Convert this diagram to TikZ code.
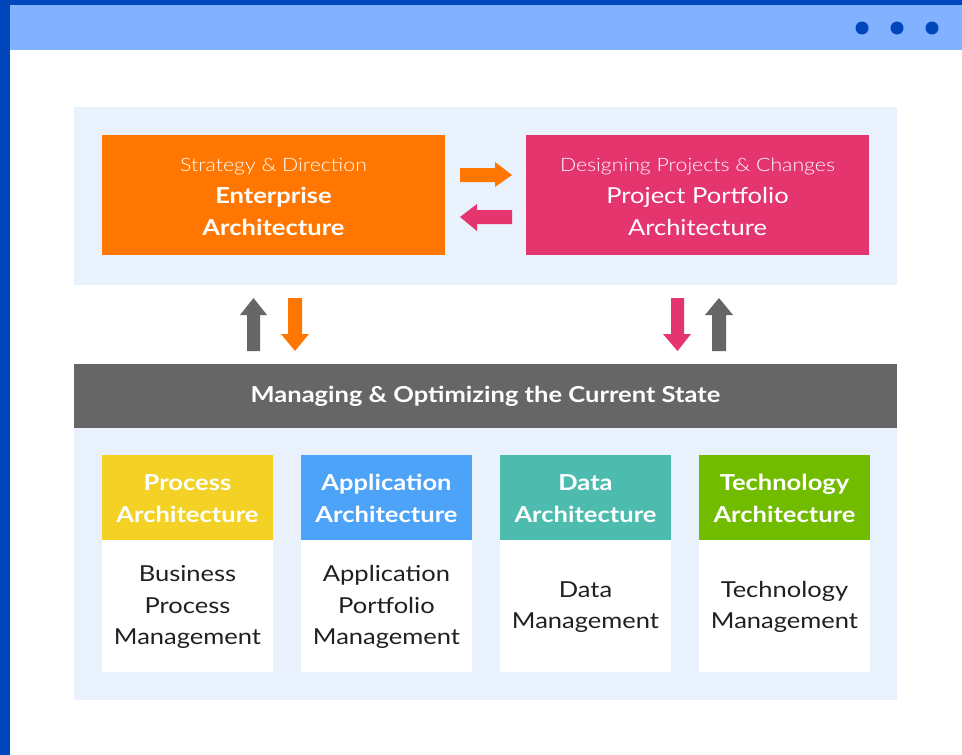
\documentclass[tikz,border=0pt]{standalone}
\usepackage{fontspec}
\setmainfont{Lato}[FakeStretch=1.16]
\newfontfamily\lightfont{Lato Light}[FakeStretch=1.15]
\definecolor{darkblue}{HTML}{0047BB}
\definecolor{barblue}{HTML}{82B1FF}
\definecolor{panel}{HTML}{E9F1FD}
\definecolor{eaorange}{HTML}{FF7700}
\definecolor{ppink}{HTML}{E4356F}
\definecolor{mgray}{HTML}{666666}
\definecolor{pyellow}{HTML}{F4D125}
\definecolor{ablue}{HTML}{4DA3F7}
\definecolor{dteal}{HTML}{4DBBAE}
\definecolor{tgreen}{HTML}{72BC00}
\definecolor{bodytext}{HTML}{231F20}
\begin{document}
\begin{tikzpicture}[x=1pt,y=-1pt,
  box/.style={draw=none,inner sep=0pt},
  toptext/.style={text=white,align=center,font=\fontsize{22}{32}\selectfont},
  hdrtext/.style={text=white,align=center,font=\bfseries\fontsize{22}{31.5}\selectfont},
  bodytxt/.style={text=bodytext,align=center,font=\fontsize{22}{31.5}\selectfont}
]
\useasboundingbox (0,0) rectangle (962,755);
\fill[white] (0,0) rectangle (962,755);
% window chrome
\fill[darkblue] (0,0) rectangle (962,5);
\fill[darkblue] (0,0) rectangle (10,755);
\fill[barblue] (10,5) rectangle (962,50);
\foreach \x in {862,897,932}
  \fill[darkblue] (\x,28) circle (6.5);
% panels
\fill[panel] (74,107) rectangle (897,285);
\fill[panel] (74,428) rectangle (897,700);
% top boxes
\fill[eaorange] (102,135) rectangle (445,255);
\node[box] (ea) at (273.5,195) {};
\fill[ppink] (526,135) rectangle (869,255);
\node[box] (pp) at (697.5,195) {};
\node[toptext] (eat) at (273.5,197) {{\lightfont\fontsize{18.5}{32}\selectfont Strategy \& Direction}\\{\bfseries Enterprise}\\{\bfseries Architecture}};
\node[toptext] (ppt) at (697.5,197) {{\lightfont\fontsize{18.5}{32}\selectfont Designing Projects \& Changes}\\Project Portfolio\\Architecture};
% horizontal arrows
\fill[eaorange] (460,168) -- (495,168) -- (495,162) -- (512,175) -- (495,187) -- (495,182) -- (460,182) -- cycle;
\fill[ppink] (512,210) -- (477,210) -- (477,204) -- (460,217) -- (477,231) -- (477,224) -- (512,224) -- cycle;
% vertical arrows
\fill[mgray] (247,351) -- (247,315) -- (240,315) -- (253.5,298) -- (267,315) -- (260,315) -- (260,351) -- cycle;
\fill[eaorange] (288,298) -- (302,298) -- (302,334) -- (309,334) -- (295,351) -- (281,334) -- (288,334) -- cycle;
\fill[ppink] (671,298) -- (684,298) -- (684,334) -- (691,334) -- (677.5,351) -- (663,334) -- (671,334) -- cycle;
\fill[mgray] (712,351) -- (712,315) -- (705,315) -- (719,298) -- (733,315) -- (726,315) -- (726,351) -- cycle;
% gray bar
\fill[mgray] (74,364) rectangle (897,428);
\node[text=white,font=\bfseries\fontsize{22}{26}\selectfont] (mgr) at (485.5,396.5) {Managing \& Optimizing the Current State};
% columns
\foreach \x/\c in {102/pyellow,301/ablue,500/dteal,699/tgreen}{
  \fill[\c] (\x,455) rectangle ++(171,85);
  \fill[white] (\x,540) rectangle ++(171,132);
}
\node[hdrtext] (pah) at (187.5,498.5) {Process\\Architecture};
\node[hdrtext] (aah) at (386.5,498.5) {Application\\Architecture};
\node[hdrtext] (dah) at (585.5,498.5) {Data\\Architecture};
\node[hdrtext] (tah) at (784.5,498.5) {Technology\\Architecture};
\node[bodytxt] (pab) at (187.5,607) {Business\\Process\\Management};
\node[bodytxt] (aab) at (386.5,607) {Application\\Portfolio\\Management};
\node[bodytxt] (dab) at (585.5,607) {Data\\Management};
\node[bodytxt] (tab) at (784.5,607) {Technology\\Management};
\end{tikzpicture}
\end{document}
